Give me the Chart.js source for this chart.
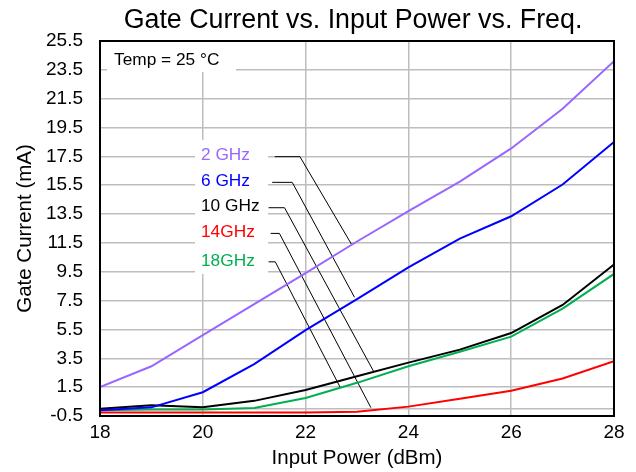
<!DOCTYPE html>
<html><head><meta charset="utf-8">
<script src="https://cdn.jsdelivr.net/npm/chart.js@4"></script>
<style>html,body{margin:0;padding:0;background:#fff}</style>
</head><body>
<canvas id="c" width="636" height="472"></canvas>
<script>
// ---- data ----
const inputPower   = [18, 19, 20, 21, 22, 23, 24, 25, 26, 27, 28];
const current2GHz  = [1.5, 2.95, 5.1, 7.25, 9.4, 11.6, 13.7, 15.75, 18.05, 20.8, 24.1];
const current6GHz  = [-0.1, 0.1, 1.15, 3.1, 5.45, 7.6, 9.8, 11.8, 13.35, 15.55, 18.5];
const current10GHz = [0.0, 0.25, 0.1, 0.55, 1.3, 2.25, 3.2, 4.1, 5.25, 7.2, 10.0];
const current14GHz = [-0.25, -0.25, -0.25, -0.25, -0.25, -0.2, 0.15, 0.7, 1.25, 2.1, 3.3];
const current18GHz = [-0.1, -0.05, -0.05, 0.05, 0.75, 1.8, 2.95, 3.95, 5.0, 6.95, 9.35];
const seriesNames  = ['2 GHz', '6 GHz', '10 GHz', '14GHz', '18GHz'];
const xTicks = [18, 20, 22, 24, 26, 28];
const yTicks = [-0.5, 1.5, 3.5, 5.5, 7.5, 9.5, 11.5, 13.5, 15.5, 17.5, 19.5, 21.5, 23.5, 25.5];
// leader lines (annotation anchors in data units)
const leaderStartX = [21.40, 21.35, 21.28, 21.32, 21.28];
const leaderBendX  = [21.89, 21.74, 21.59, 21.49, 21.41];
const leaderY      = [17.48, 15.70, 13.94, 12.16, 10.19];
const leaderEndX   = [22.89, 22.95, 23.33, 23.27, 22.68];
const leaderEndY   = [11.42, 7.74, 2.55, 0.08, 1.44];
const chartTitle = 'Gate Current vs. Input Power vs. Freq.';
const tempNote = 'Temp = 25 °C';

// ---- styles ----
const colors = ['#9966FF', '#0000FF', '#000000', '#FF0000', '#00B050'];
const FONT = "'Liberation Sans', Arial, sans-serif";
const seriesData = [current2GHz, current6GHz, current10GHz, current14GHz, current18GHz];

const datasets = [];
seriesData.forEach((arr, k) => {
  datasets.push({
    label: seriesNames[k],
    data: inputPower.map((x, i) => ({x: x, y: arr[i]})),
    borderColor: colors[k], borderWidth: 2, pointRadius: 0, tension: 0, fill: false
  });
});
seriesNames.forEach((n, k) => {
  datasets.push({
    label: 'leader ' + n,
    data: [{x: leaderStartX[k], y: leaderY[k]}, {x: leaderBendX[k], y: leaderY[k]}, {x: leaderEndX[k], y: leaderEndY[k]}],
    borderColor: '#000', borderWidth: 1, pointRadius: 0, tension: 0, fill: false
  });
});

const annot = {
  id: 'annot',
  beforeDatasetsDraw(chart) {
    const {ctx, chartArea: a, scales: {x, y}} = chart;
    ctx.save();
    ctx.fillStyle = '#fff';
    ctx.fillRect(a.left + 7, a.top + 1, 129, 30);
    ctx.fillRect(a.left + 95, a.top + 99, 73, 134);
    ctx.font = '17.3px ' + FONT;
    ctx.textBaseline = 'middle';
    ctx.textAlign = 'left';
    ctx.fillStyle = '#000';
    ctx.fillText(tempNote, a.left + 14, a.top + 19);
    seriesNames.forEach((n, k) => {
      ctx.fillStyle = colors[k];
      ctx.fillText(n, a.left + 101, y.getPixelForValue(leaderY[k]) - 1);
    });
    ctx.restore();
  },
  afterDatasetsDraw(chart) {
    const {ctx, chartArea: a} = chart;
    ctx.save();
    ctx.strokeStyle = '#000';
    ctx.lineWidth = 2;
    ctx.strokeRect(a.left, a.top, a.right - a.left, a.bottom - a.top);
    ctx.font = '26.8px ' + FONT;
    ctx.fillStyle = '#000';
    ctx.textAlign = 'center';
    ctx.textBaseline = 'middle';
    ctx.fillText(chartTitle, (a.left + a.right) / 2 - 4, 21);
    ctx.restore();
  }
};

new Chart(document.getElementById('c'), {
  type: 'line',
  data: {datasets},
  plugins: [annot],
  options: {
    responsive: false, animation: false, devicePixelRatio: 1,
    layout: {padding: {left: 0, right: 22, top: 41, bottom: 0}},
    plugins: {
      legend: {display: false}, tooltip: {enabled: false}, title: {display: false}
    },
    scales: {
      x: {
        type: 'linear', min: 18, max: 28,
        afterBuildTicks: s => { s.ticks = xTicks.map(v => ({value: v})); },
        afterFit: s => { s.height = 56; },
        grid: {color: '#bdbdbd', lineWidth: 1.5, drawTicks: false},
        border: {display: false},
        ticks: {color: '#000', font: {family: FONT, size: 19}, padding: 5, maxRotation: 0},
        title: {display: true, text: 'Input Power (dBm)', color: '#000', font: {family: FONT, size: 20.5}, padding: {top: 0, bottom: 1}}
      },
      y: {
        type: 'linear', min: -0.5, max: 25.5,
        afterBuildTicks: s => { s.ticks = yTicks.concat([0]).sort((a, b) => a - b).map(v => ({value: v})); },
        afterFit: s => { s.width = 100; },
        grid: {color: '#bdbdbd', lineWidth: 1.5, drawTicks: false},
        border: {display: false},
        ticks: {color: '#000', font: {family: FONT, size: 19}, padding: 17,
          callback: v => (v === 0 ? '' : v.toFixed(1))},
        title: {display: true, text: 'Gate Current (mA)', color: '#000', font: {family: FONT, size: 20.5}, padding: {top: 13, bottom: 0}}
      }
    }
  }
});
</script>
</body></html>
